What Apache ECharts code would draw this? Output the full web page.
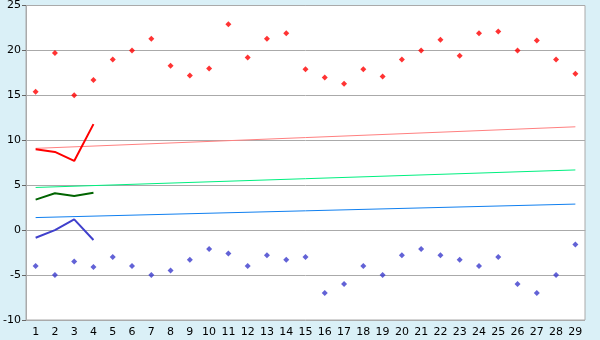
<!DOCTYPE html>
<html><head><meta charset="utf-8">
<script src="https://cdn.jsdelivr.net/npm/echarts@6/dist/echarts.min.js"></script>
<style>html,body{margin:0;padding:0;background:#DAF0F7}#c{width:600px;height:340px}</style>
</head><body><div id="c"></div>
<script>
const categories = ['1','2','3','4','5','6','7','8','9','10','11','12','13','14','15','16','17','18','19','20','21','22','23','24','25','26','27','28','29'];
const highPoints = [15.4,19.7,15.0,16.7,19.0,20.0,21.3,18.3,17.2,18.0,22.9,19.2,21.3,21.9,17.9,17.0,16.3,17.9,17.1,19.0,20.0,21.2,19.4,21.9,22.1,20.0,21.1,19.0,17.4];
const lowPoints = [-4.0,-5.0,-3.5,-4.1,-3.0,-4.0,-5.0,-4.5,-3.3,-2.1,-2.6,-4.0,-2.8,-3.3,-3.0,-7.0,-6.0,-4.0,-5.0,-2.8,-2.1,-2.8,-3.3,-4.0,-3.0,-6.0,-7.0,-5.0,-1.6];
const highLine = [9.0,8.7,7.7,11.8];
const meanLine = [3.4,4.1,3.8,4.15];
const lowLine = [-0.85,0.0,1.2,-1.1];
const highTrend = [9.1,11.5];
const meanTrend = [4.75,6.7];
const lowTrend = [1.4,2.9];
const yTicks = [-10,-5,0,5,10,15,20,25];

function trend(v){ return [[0, v[0]], [categories.length-1, v[1]]]; }

const chart = echarts.init(document.getElementById('c'));
const font = 'DejaVu Sans';
chart.setOption({
  backgroundColor: '#DAF0F7',
  animation: false,
  grid: {left: 26, top: 5, width: 559, height: 315, show: true, backgroundColor: '#fff', borderColor: '#aaa', borderWidth: 1},
  xAxis: {
    type: 'category', data: categories, boundaryGap: true,
    axisLine: {lineStyle: {color: '#aaa'}},
    axisTick: {alignWithLabel: true, length: 5, lineStyle: {color: '#666'}},
    axisLabel: {color: '#000', fontFamily: font, fontSize: 11, margin: 7},
    splitLine: {show: false}
  },
  yAxis: {
    type: 'value', min: yTicks[0], max: yTicks[yTicks.length-1], interval: 5,
    axisLine: {show: true, lineStyle: {color: '#aaa'}},
    axisTick: {show: true, length: 4, lineStyle: {color: '#666'}},
    axisLabel: {color: '#000', fontFamily: font, fontSize: 11, margin: 5},
    splitLine: {lineStyle: {color: '#aaa', width: 1}}
  },
  series: [
    {type: 'line', data: trend(highTrend), symbol: 'none', lineStyle: {color: '#FF8080', width: 1}, z: 2},
    {type: 'line', data: trend(meanTrend), symbol: 'none', lineStyle: {color: '#00F080', width: 1}, z: 2},
    {type: 'line', data: trend(lowTrend), symbol: 'none', lineStyle: {color: '#1080F0', width: 1}, z: 2},
    {type: 'line', data: highLine, symbol: 'none', lineStyle: {color: '#FF0000', width: 2}, z: 3},
    {type: 'line', data: meanLine, symbol: 'none', lineStyle: {color: '#006400', width: 2}, z: 3},
    {type: 'line', data: lowLine, symbol: 'none', lineStyle: {color: '#4040CC', width: 2}, z: 3},
    {type: 'scatter', data: highPoints, symbol: 'diamond', symbolSize: 6, itemStyle: {color: '#FF0000'}, z: 4},
    {type: 'scatter', data: lowPoints, symbol: 'diamond', symbolSize: 6, itemStyle: {color: '#3B3BCC'}, z: 4}
  ]
});
</script></body></html>
